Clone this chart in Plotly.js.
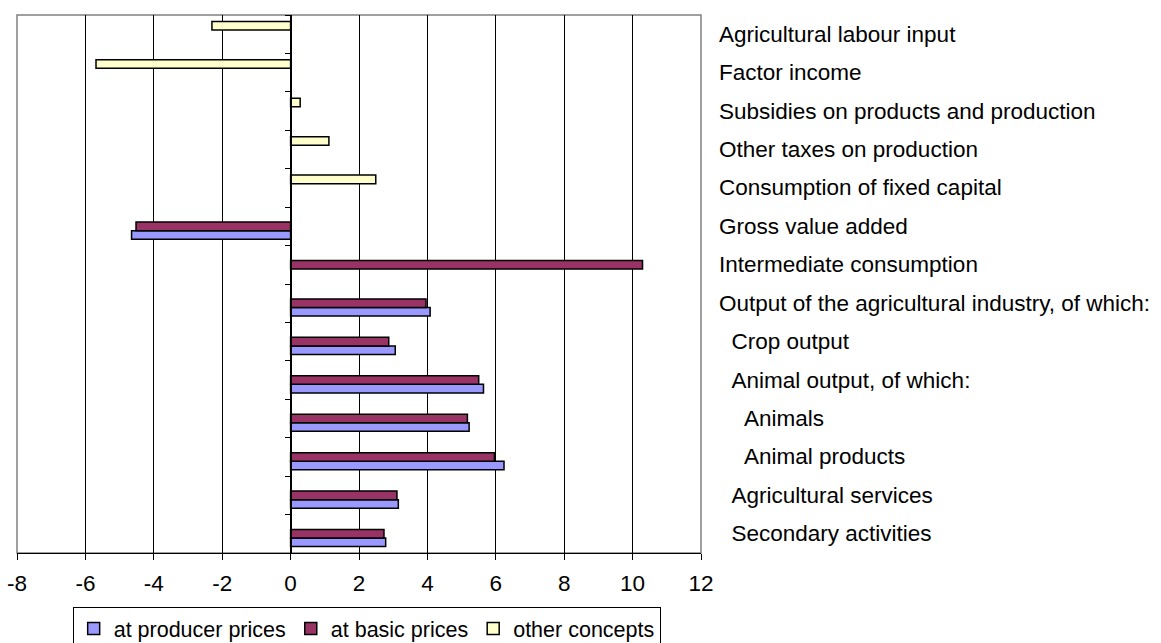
<!DOCTYPE html>
<html>
<head>
<meta charset="utf-8">
<script src="https://cdn.plot.ly/plotly-3.0.1.min.js"></script>
<style>html,body{margin:0;padding:0;background:#fff;}#chart{width:1161px;height:643px;}</style>
</head>
<body>
<div id="chart"></div>
<script>
// Categories listed top to bottom as in the chart
var categories = [
  "Agricultural labour input",
  "Factor income",
  "Subsidies on products and production",
  "Other taxes on production",
  "Consumption of fixed capital",
  "Gross value added",
  "Intermediate consumption",
  "Output of the agricultural industry, of which:",
  "\u00a0\u00a0Crop output",
  "\u00a0\u00a0Animal output, of which:",
  "\u00a0\u00a0\u00a0\u00a0Animals",
  "\u00a0\u00a0\u00a0\u00a0Animal products",
  "\u00a0\u00a0Agricultural services",
  "\u00a0\u00a0Secondary activities"
];
var producerPrices = [null, null, null, null, null, -4.65, null, 4.08, 3.06, 5.64, 5.22, 6.24, 3.15, 2.78];
var basicPrices    = [null, null, null, null, null, -4.52, 10.29, 3.96, 2.87, 5.50, 5.17, 5.96, 3.11, 2.73];
var otherConcepts  = [-2.30, -5.69, 0.28, 1.12, 2.49, null, null, null, null, null, null, null, null, null];
var seriesNames = ["at producer prices", "at basic prices", "other concepts"];
var xTicks = [-8, -6, -4, -2, 0, 2, 4, 6, 8, 10, 12];

// plot bottom-to-top so the first series sits lowest in each group
var catsB = categories.slice().reverse();
function rev(a){ return a.slice().reverse(); }

var FONT = "Liberation Sans, Arial, sans-serif";
var colors = ["#9999FF", "#993366", "#FFFFCC"];
var series = [producerPrices, basicPrices, otherConcepts];

var traces = series.map(function(vals, i){
  return {
    type: "bar", orientation: "h",
    x: rev(vals), y: catsB,
    name: seriesNames[i],
    marker: {color: colors[i], line: {color: "#000", width: 1.5}},
    hoverinfo: "x+name"
  };
});

var annotations = categories.map(function(c){
  return {
    xref: "paper", yref: "y", x: 1, y: c, xshift: 16,
    xanchor: "left", yanchor: "middle", showarrow: false,
    text: c, font: {family: FONT, size: 22.5, color: "#000"}
  };
});

var layout = {
  width: 1161, height: 643,
  margin: {l: 17, r: 460, t: 15, b: 90, autoexpand: false},
  paper_bgcolor: "#fff", plot_bgcolor: "#fff",
  barmode: "group", bargap: 1/3, bargroupgap: 0,
  showlegend: true,
  legend: {
    orientation: "h", x: 0.0814, y: -0.1004, xanchor: "left", yanchor: "top",
    bordercolor: "#000", borderwidth: 1,
    font: {family: FONT, size: 21.5, color: "#000"},
    traceorder: "normal"
  },
  xaxis: {
    range: [-8, 12], tickvals: xTicks, ticktext: xTicks.map(String),
    showgrid: true, gridcolor: "#000", gridwidth: 1,
    zeroline: false, showline: true, linecolor: "#000", linewidth: 1,
    ticks: "outside", ticklen: 6, tickcolor: "#000",
    ticklabelstandoff: 4,
    tickfont: {family: FONT, size: 22.5, color: "#000"},
    fixedrange: true
  },
  yaxis: {
    type: "category", categoryorder: "array", categoryarray: catsB,
    anchor: "free", position: 0.4, side: "left",
    showline: true, linecolor: "#000", linewidth: 1,
    ticks: "outside", ticklen: 6, tickcolor: "#000", tickson: "boundaries",
    showticklabels: false, showgrid: false, zeroline: false,
    fixedrange: true
  },
  shapes: [{
    type: "rect", xref: "paper", yref: "paper", x0: 0, x1: 1, y0: 0, y1: 1,
    line: {color: "#808080", width: 1.5}, layer: "below"
  }],
  annotations: annotations,
  font: {family: FONT, color: "#000"}
};

Plotly.newPlot("chart", traces, layout, {displayModeBar: false, staticPlot: true});
</script>
</body>
</html>
